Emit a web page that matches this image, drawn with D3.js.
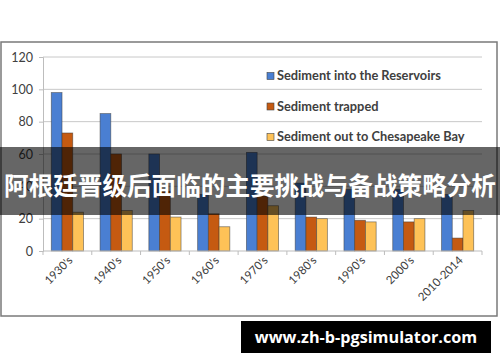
<!DOCTYPE html>
<html lang="zh">
<head>
<meta charset="UTF-8">
<script src="https://d3js.org/d3.v7.min.js"></script>
<style>
  body { margin: 0; background: #fff; }
  svg { display: block; }
  .axis text { font-family: Lato, "Liberation Sans", sans-serif; fill: #404040; }
</style>
</head>
<body>
<svg width="500" height="362"></svg>
<script>
const width = 500, height = 362;

// data
const decades = ["1930's", "1940's", "1950's", "1960's", "1970's", "1980's", "1990's", "2000's", "2010-2014"];
const intoReservoirs = [98, 85, 60, 35, 61, 42, 38, 38, 35];
const trapped = [73, 60, 37, 23, 34, 21, 19, 18, 8];
const outToBay = [24, 25, 21, 15, 28, 20, 18, 20, 25];
const seriesNames = ["Sediment into the Reservoirs", "Sediment trapped", "Sediment out to Chesapeake Bay"];
const seriesColors = ["#4a7fd2", "#c55a11", "#fec257"];
const yTicks = [0, 20, 40, 60, 80, 100, 120];
const title = "阿根廷晋级后面临的主要挑战与备战策略分析";
const site = "www.zh-b-pgsimulator.com";

const series = [intoReservoirs, trapped, outToBay];

const svg = d3.select("svg");

// chart frame
svg.append("rect")
  .attr("x", 1).attr("y", 42)
  .attr("width", 496).attr("height", 274)
  .attr("fill", "#fff")
  .attr("stroke", "#7a7a7a")
  .attr("stroke-width", 1.5);

const x = d3.scaleBand().domain(decades).range([43, 482]).paddingInner(0.34).paddingOuter(0.17);
const y = d3.scaleLinear().domain([0, 120]).range([251, 57]);

// gridlines
svg.append("g")
  .selectAll("line")
  .data(yTicks.slice(1))
  .join("line")
  .attr("x1", 43).attr("x2", 482)
  .attr("y1", d => y(d)).attr("y2", d => y(d))
  .attr("stroke", "#c8c8c8");

// y axis
const yAxis = svg.append("g")
  .attr("class", "axis")
  .attr("transform", "translate(43,0)")
  .call(d3.axisLeft(y).tickValues(yTicks).tickSize(4).tickPadding(6));
yAxis.select(".domain").attr("stroke", "#bdbdbd");
yAxis.selectAll(".tick line").attr("stroke", "#bdbdbd");
yAxis.selectAll("text").attr("font-size", 12.5);

// bars
const inner = d3.scaleBand().domain([0, 1, 2]).range([0, x.bandwidth()]);
const groups = svg.append("g")
  .selectAll("g")
  .data(decades)
  .join("g")
  .attr("transform", d => `translate(${x(d)},0)`);

groups.selectAll("rect")
  .data((d, i) => series.map((s, k) => ({ k, v: s[i] })))
  .join("rect")
  .attr("x", d => inner(d.k))
  .attr("y", d => y(d.v))
  .attr("width", inner.bandwidth())
  .attr("height", d => y(0) - y(d.v))
  .attr("fill", d => seriesColors[d.k])
  .attr("stroke", "#3a3a3a")
  .attr("stroke-opacity", 0.6)
  .attr("stroke-width", 0.8);

// x axis
const xStep = (482 - 43) / decades.length;
const xAxis = svg.append("g")
  .attr("class", "axis")
  .attr("transform", `translate(0,${y(0)})`);
xAxis.append("line")
  .attr("x1", 43).attr("x2", 482)
  .attr("stroke", "#bdbdbd");
xAxis.selectAll("line.tk")
  .data(d3.range(decades.length + 1))
  .join("line")
  .attr("class", "tk")
  .attr("x1", i => 43 + i * xStep).attr("x2", i => 43 + i * xStep)
  .attr("y1", 0).attr("y2", 4)
  .attr("stroke", "#bdbdbd");
xAxis.selectAll("text")
  .data(decades)
  .join("text")
  .attr("text-anchor", "end")
  .attr("font-size", 11.5)
  .attr("transform", d => `translate(${x(d) + x.bandwidth() / 2 + 6},${10}) rotate(-45)`)
  .text(d => d);

// legend
const legend = svg.append("g")
  .selectAll("g")
  .data(seriesNames)
  .join("g")
  .attr("transform", (d, i) => `translate(267,${76 + i * 30.5})`);
legend.append("rect")
  .attr("x", 0).attr("y", -3.5)
  .attr("width", 7).attr("height", 7)
  .attr("fill", (d, i) => seriesColors[i])
  .attr("stroke", "#444").attr("stroke-width", 0.6);
legend.append("text")
  .attr("x", 10).attr("dy", "0.35em")
  .attr("font-family", "Lato, 'Liberation Sans', sans-serif")
  .attr("font-weight", 700)
  .attr("font-size", 12.8)
  .attr("fill", "#404040")
  .text(d => d);

// title banner over the chart
svg.append("rect")
  .attr("x", 0).attr("y", 147)
  .attr("width", width).attr("height", 68)
  .attr("fill", "#000").attr("fill-opacity", 0.6);
svg.append("text")
  .attr("x", width / 2).attr("y", 184)
  .attr("text-anchor", "middle")
  .attr("dominant-baseline", "central")
  .attr("font-family", "'Noto Sans CJK SC', sans-serif")
  .attr("font-weight", 700)
  .attr("font-size", 24.6)
  .attr("fill", "#fff")
  .text(title);

// site banner
svg.append("rect")
  .attr("x", 241).attr("y", 321)
  .attr("width", 250).attr("height", 32)
  .attr("fill", "#000");
svg.append("text")
  .attr("x", 366).attr("y", 337)
  .attr("text-anchor", "middle")
  .attr("dominant-baseline", "central")
  .attr("font-family", "'Open Sans', 'DejaVu Sans', sans-serif")
  .attr("font-weight", 700)
  .attr("font-size", 16.2)
  .attr("fill", "#fff")
  .text(site);
</script>
</body>
</html>
